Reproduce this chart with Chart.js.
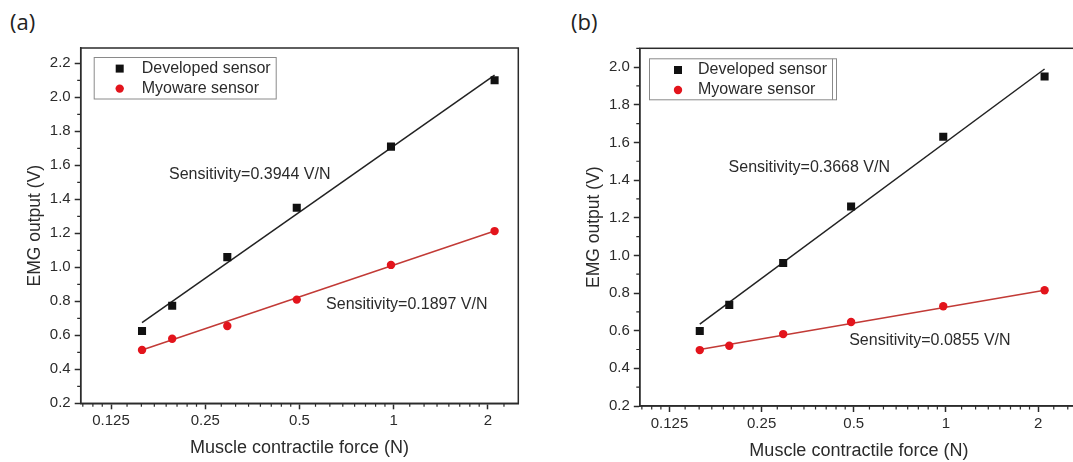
<!DOCTYPE html>
<html>
<head>
<meta charset="utf-8">
<script src="https://cdn.jsdelivr.net/npm/chart.js@4"></script>
<style>
  html, body { margin: 0; padding: 0; background: #fff; overflow: hidden; }
  body { width: 1073px; height: 462px; position: relative; }
  .panel { position: absolute; top: 0; width: 540px; height: 462px; }
  .tag { position: absolute; top: 6px; font: 22px "Open Sans", "Noto Sans", sans-serif; color: #222; }
</style>
</head>
<body>
<div class="tag" style="left:10px">(a)</div>
<div class="tag" style="left:571px">(b)</div>
<div class="panel" style="left:0"><canvas id="chartA" width="540" height="462"></canvas></div>
<div class="panel" style="left:560px"><canvas id="chartB" width="540" height="462"></canvas></div>
<script>
// EMG output vs muscle force, developed sensor vs Myoware, two trials (a) and (b).
// x axis is log2 (Origin style), fits are straight lines on that axis.

const forceN = [0.157, 0.196, 0.294, 0.49, 0.98, 2.1];
const devA = [0.625, 0.774, 1.06, 1.35, 1.71, 2.10];
const myoA = [0.514, 0.58, 0.655, 0.81, 1.014, 1.213];
const devB = [0.598, 0.737, 0.96, 1.26, 1.63, 1.95];
const myoB = [0.497, 0.52, 0.582, 0.646, 0.73, 0.815];

const fitX = [0.157, 2.1];
const fitDevA = [0.674, 2.13];
const fitMyoA = [0.514, 1.214];
const fitDevB = [0.635, 1.99];
const fitMyoB = [0.50, 0.815];

const xTicks = [0.125, 0.25, 0.5, 1, 2];
const yTicksA = [0.2, 0.4, 0.6, 0.8, 1.0, 1.2, 1.4, 1.6, 1.8, 2.0, 2.2];
const yTicksB = [0.2, 0.4, 0.6, 0.8, 1.0, 1.2, 1.4, 1.6, 1.8, 2.0];

const notesA = [
  { text: "Sensitivity=0.3944 V/N", x: 0.1915, y: 1.547 },
  { text: "Sensitivity=0.1897 V/N", x: 0.608, y: 0.778 },
];
const notesB = [
  { text: "Sensitivity=0.3668 V/N", x: 0.195, y: 1.464 },
  { text: "Sensitivity=0.0855 V/N", x: 0.483, y: 0.55 },
];

const FONT = '"Liberation Sans", Arial, sans-serif';
const AXIS = "#2b2b2b";
const TEXT = "#2b2b2b";
const RED = "#e3141c";
const RED_LINE = "#c23a36";

// log2 minor ticks: 7 linear steps inside each octave
function minorTicks(lo, hi) {
  const out = [];
  for (let b = 0.0625; b < hi; b *= 2) {
    for (let k = 1; k < 8; k++) {
      const v = b * (1 + k / 8);
      if (v > lo && v < hi) out.push(v);
    }
  }
  return out;
}

// frame, minor ticks, sensitivity notes and boxed legend
const extras = {
  id: "extras",
  afterDraw(chart, args, o) {
    const { ctx, chartArea: a, scales: { x, y } } = chart;
    ctx.save();
    ctx.strokeStyle = AXIS;
    ctx.lineWidth = 1.5;
    ctx.strokeRect(a.left, a.top, a.right - a.left, a.bottom - a.top);

    ctx.lineWidth = 1.2;
    ctx.beginPath();
    for (const v of minorTicks(x.min, x.max)) {
      const px = x.getPixelForValue(v);
      ctx.moveTo(px, a.bottom); ctx.lineTo(px, a.bottom + 3.5);
    }
    for (let v = 0.3; v < y.max; v += 0.2) {
      const py = y.getPixelForValue(v);
      ctx.moveTo(a.left, py); ctx.lineTo(a.left - 3.5, py);
    }
    ctx.stroke();

    ctx.fillStyle = TEXT;
    ctx.font = `16px ${FONT}`;
    ctx.textAlign = "left";
    ctx.textBaseline = "middle";
    for (const n of o.notes) ctx.fillText(n.text, x.getPixelForValue(n.x), y.getPixelForValue(n.y));

    // legend box
    const L = o.legend;
    const bx = a.left + L.dx, by = a.top + L.dy;
    ctx.strokeStyle = "#8a8a8a";
    ctx.lineWidth = 1;
    ctx.strokeRect(bx + 0.5, by + 0.5, L.w, L.h);
    if (L.double) {
      ctx.beginPath();
      ctx.moveTo(bx + L.w - 3.5, by + 0.5); ctx.lineTo(bx + L.w - 3.5, by + L.h + 0.5);
      ctx.stroke();
    }
    chart.data.datasets.slice(0, 2).forEach((ds, i) => {
      const ry = by + L.row0 + i * 20;
      ctx.fillStyle = ds.backgroundColor;
      ctx.beginPath();
      if (ds.pointStyle === "rect") ctx.rect(bx + L.mx - 4, ry - 4, 8, 8);
      else ctx.arc(bx + L.mx, ry, 4.2, 0, Math.PI * 2);
      ctx.fill();
      ctx.fillStyle = TEXT;
      ctx.fillText(ds.label, bx + L.tx, ry);
    });
    ctx.restore();
  }
};

function pts(xs, ys) { return xs.map((v, i) => ({ x: v, y: ys[i] })); }

function makeChart(id, dev, myo, fDev, fMyo, yTicks, cfg) {
  const tickFont = { family: FONT, size: 15 };
  return new Chart(document.getElementById(id), {
    type: "scatter",
    data: {
      datasets: [
        { label: "Developed sensor", data: pts(forceN, dev), pointStyle: "rect", pointRadius: 5.7,
          backgroundColor: "#111", borderColor: "#111", borderWidth: 0, order: 1 },
        { label: "Myoware sensor", data: pts(forceN, myo), pointStyle: "circle", pointRadius: 4.2,
          backgroundColor: RED, borderColor: RED, borderWidth: 0, order: 1 },
        { type: "line", data: pts(fitX, fDev), borderColor: "#222", borderWidth: 1.5,
          pointRadius: 0, fill: false, order: 2 },
        { type: "line", data: pts(fitX, fMyo), borderColor: RED_LINE, borderWidth: 1.5,
          pointRadius: 0, fill: false, order: 2 },
      ],
    },
    options: {
      responsive: false,
      animation: false,
      events: [],
      layout: { padding: { top: cfg.top, right: cfg.right, left: 0, bottom: 0 } },
      plugins: { legend: { display: false }, tooltip: { enabled: false }, extras: cfg.extras },
      scales: {
        x: {
          type: "logarithmic", min: 0.1, max: cfg.xMax,
          afterBuildTicks: (s) => { s.ticks = xTicks.map((v) => ({ value: v })); },
          afterFit: (s) => { s.height = cfg.xH; },
          ticks: { font: tickFont, color: TEXT, padding: 3, maxRotation: 0, autoSkip: false,
                   callback: (v) => String(v) },
          grid: { drawOnChartArea: false, tickLength: 6, tickColor: AXIS, tickWidth: 1.5 },
          border: { color: AXIS, width: 1.5 },
          title: { display: true, text: "Muscle contractile force (N)", color: TEXT,
                   font: { family: FONT, size: 18 }, padding: { top: 0, bottom: cfg.xTitlePad } },
        },
        y: {
          min: 0.2, max: cfg.yMax,
          afterBuildTicks: (s) => { s.ticks = yTicks.map((v) => ({ value: v })); },
          afterFit: (s) => { s.width = cfg.yW; },
          ticks: { font: tickFont, color: TEXT, padding: 4, callback: (v) => v.toFixed(1) },
          grid: { drawOnChartArea: false, tickLength: 6, tickColor: AXIS, tickWidth: 1.5 },
          border: { color: AXIS, width: 1.5 },
          title: { display: true, text: "EMG output (V)", color: TEXT,
                   font: { family: FONT, size: 17.5, lineHeight: 1.2 },
                   padding: { top: cfg.yTitlePad, bottom: 0 } },
        },
      },
    },
    plugins: [extras],
  });
}

makeChart("chartA", devA, myoA, fitDevA, fitMyoA, yTicksA, {
  top: 48, right: 21.7, xMax: 2.5, yMax: 2.29, xH: 58.7, yW: 80.7, xTitlePad: 3, yTitlePad: 25,
  extras: { notes: notesA,
            legend: { dx: 13, dy: 9, w: 182, h: 41.5, row0: 11.6, mx: 26, tx: 48, double: false } },
});

makeChart("chartB", devB, myoB, fitDevB, fitMyoB, yTicksB, {
  top: 48.3, right: 22, xMax: 2.7, yMax: 2.1, xH: 56, yW: 79.8, xTitlePad: 0, yTitlePad: 24,
  extras: { notes: notesB,
            legend: { dx: 9.2, dy: 10, w: 187, h: 41, row0: 11.7, mx: 29, tx: 49, double: true } },
});
</script>
</body>
</html>
